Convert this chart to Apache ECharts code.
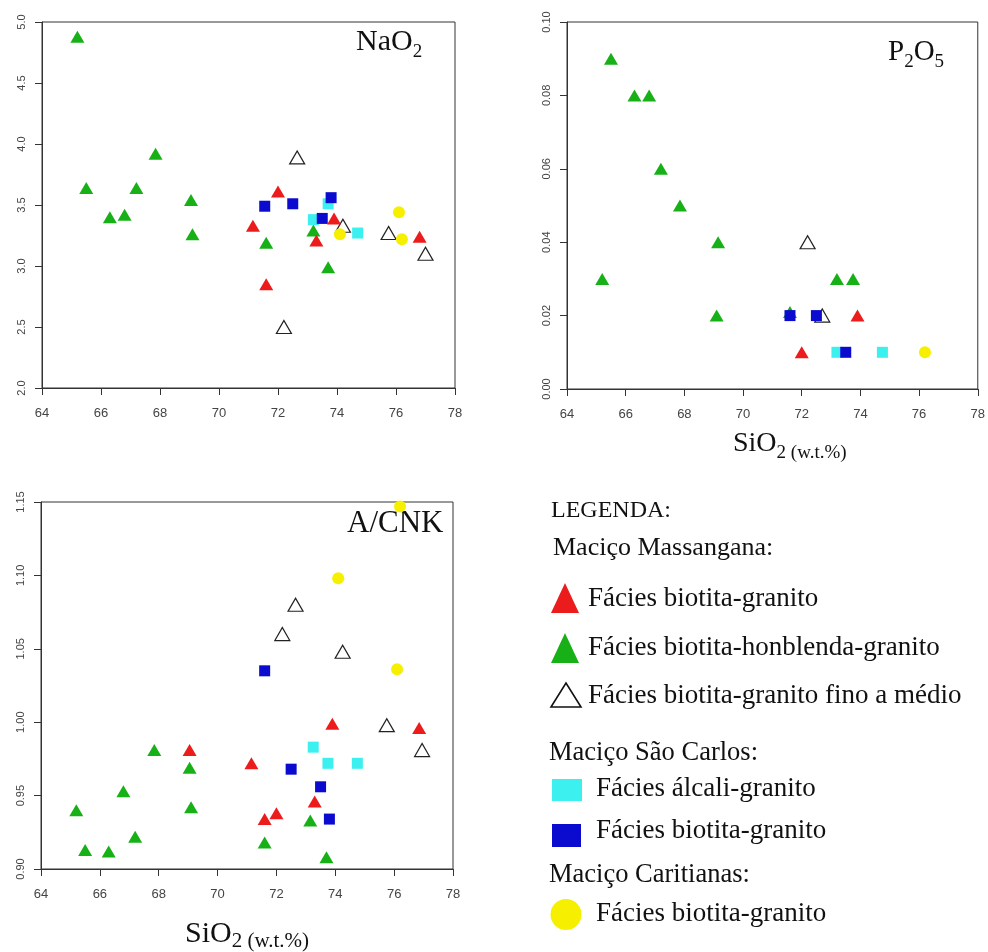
<!DOCTYPE html>
<html>
<head>
<meta charset="utf-8">
<script src="https://cdn.jsdelivr.net/npm/echarts@6/dist/echarts.min.js"></script>
<style>
  html, body { margin: 0; padding: 0; background: #fff; }
  #chart { width: 988px; height: 952px; }
</style>
</head>
<body>
<div id="chart"></div>
<script>
// x = SiO2 (w.t.%), y = value of each panel; one array per facies per panel

// NaO2
const naOpen = [[72.65, 3.89], [72.2, 2.50], [74.2, 3.33], [75.75, 3.27], [77.0, 3.10]]
const naGreen = [[65.2, 4.88], [65.5, 3.64], [66.3, 3.40], [66.8, 3.42], [67.2, 3.64], [67.85, 3.92],
  [69.05, 3.54], [69.1, 3.26], [71.6, 3.19], [73.2, 3.29], [73.7, 2.99]]
const naRed = [[72.0, 3.61], [71.15, 3.33], [71.6, 2.85], [73.3, 3.21], [73.9, 3.39], [76.8, 3.24]]
const naCyan = [[73.2, 3.38], [73.7, 3.51], [74.7, 3.27]]
const naBlue = [[71.55, 3.49], [72.5, 3.51], [73.8, 3.56], [73.5, 3.39]]
const naYellow = [[76.1, 3.44], [74.1, 3.26], [76.2, 3.22]]

// P2O5
const pOpen = [[72.2, 0.04], [72.7, 0.02]]
const pGreen = [[65.5, 0.09], [66.3, 0.08], [66.8, 0.08], [67.2, 0.06], [67.85, 0.05], [69.15, 0.04],
  [65.2, 0.03], [73.2, 0.03], [73.75, 0.03], [69.1, 0.02], [71.6, 0.021]]
const pRed = [[73.9, 0.02], [72.0, 0.01]]
const pCyan = [[73.2, 0.01], [74.75, 0.01]]
const pBlue = [[71.6, 0.02], [72.5, 0.02], [73.5, 0.01]]
const pYellow = [[76.2, 0.01]]

// A/CNK
const acOpen = [[72.65, 1.080], [72.2, 1.060], [74.25, 1.048], [75.75, 0.998], [76.95, 0.981]]
const acGreen = [[67.85, 0.981], [69.05, 0.969], [66.8, 0.953], [65.2, 0.940], [69.1, 0.942], [67.2, 0.922],
  [65.5, 0.913], [66.3, 0.912], [71.6, 0.918], [73.15, 0.933], [73.7, 0.908]]
const acRed = [[73.9, 0.999], [76.85, 0.996], [69.05, 0.981], [71.15, 0.972], [73.3, 0.946], [72.0, 0.938], [71.6, 0.934]]
const acCyan = [[73.25, 0.983], [73.75, 0.972], [74.75, 0.972]]
const acBlue = [[71.6, 1.035], [72.5, 0.968], [73.5, 0.956], [73.8, 0.934]]
const acYellow = [[76.2, 1.147], [74.1, 1.098], [76.1, 1.036]]

const xTicks = { min: 64, max: 78, step: 2 }
const naTicks = { min: 2, max: 5, step: 0.5, digits: 1 }
const pTicks = { min: 0, max: 0.1, step: 0.02, digits: 2 }
const acTicks = { min: 0.9, max: 1.15, step: 0.05, digits: 2 }

const RED = '#ec1c1c'
const GREEN = '#17b117'
const CYAN = '#3cf0f0'
const BLUE = '#0b0bcf'
const YELLOW = '#f6f000'
const AXIS = '#333'

const serif = '"Liberation Serif", "Times New Roman", serif'

const grids = [
  { left: 42, top: 22, width: 413, height: 366 },
  { left: 567, top: 22, width: 413, height: 367 },
  { left: 41, top: 502, width: 412, height: 367 }
]

function xAxis (i) {
  return {
    type: 'value', gridIndex: i, min: xTicks.min, max: xTicks.max, interval: xTicks.step,
    axisLine: { show: true, onZero: false, lineStyle: { color: AXIS } },
    axisTick: { show: true, length: 7, lineStyle: { color: AXIS } },
    splitLine: { show: false },
    axisLabel: { margin: 19, fontSize: 13, color: '#444', fontFamily: 'Liberation Sans' }
  }
}

function yAxis (i, t) {
  return {
    type: 'value', gridIndex: i, min: t.min, max: t.max, interval: t.step,
    axisLine: { show: true, onZero: false, lineStyle: { color: AXIS } },
    axisTick: { show: true, length: 7, lineStyle: { color: AXIS } },
    splitLine: { show: false },
    axisLabel: {
      rotate: 90, margin: 15, fontSize: 11, color: '#444', fontFamily: 'Liberation Sans',
      formatter: v => v.toFixed(t.digits)
    }
  }
}

// draw order: open, green, red, cyan, blue, yellow (later on top)
function panelSeries (i, open, green, red, cyan, blue, yellow) {
  const base = { type: 'scatter', xAxisIndex: i, yAxisIndex: i, silent: true, clip: false }
  return [
    { ...base, data: open, symbol: 'triangle', symbolSize: [15, 13], itemStyle: { color: '#fff', borderColor: '#222', borderWidth: 1.2, opacity: 1 } },
    { ...base, data: green, symbol: 'triangle', symbolSize: [14, 12], itemStyle: { color: GREEN, opacity: 1 } },
    { ...base, data: red, symbol: 'triangle', symbolSize: [14, 12], itemStyle: { color: RED, opacity: 1 } },
    { ...base, data: cyan, symbol: 'rect', symbolSize: 11, itemStyle: { color: CYAN, opacity: 1 } },
    { ...base, data: blue, symbol: 'rect', symbolSize: 11, itemStyle: { color: BLUE, opacity: 1 } },
    { ...base, data: yellow, symbol: 'circle', symbolSize: 12, itemStyle: { color: YELLOW, opacity: 1 } }
  ]
}

// text helpers: y given as baseline
const measure = document.createElement('canvas').getContext('2d')
function textWidth (s, size) {
  measure.font = size + 'px ' + serif
  return measure.measureText(s).width
}
function txt (x, baseline, s, size) {
  return {
    type: 'text', x: x, y: baseline - 0.34 * size, silent: true,
    style: { text: s, fontSize: size, fontFamily: serif, fill: '#111', align: 'left', verticalAlign: 'middle' }
  }
}
function formula (x, baseline, parts, size, subSize, drop) {
  const out = []
  let cx = x
  parts.forEach(([s, sub]) => {
    const fs = sub ? subSize : size
    out.push(txt(cx, sub ? baseline + drop : baseline, s, fs))
    cx += textWidth(s, fs)
  })
  return out
}

const graphics = [
  ...formula(356, 52, [['NaO', false], ['2', true]], 30, 19, 6),
  ...formula(888, 62, [['P', false], ['2', true], ['O', false], ['5', true]], 29, 19, 6),
  ...formula(347, 534, [['A/CNK', false]], 31, 20, 0),
  ...formula(733, 453, [['SiO', false], ['2 (w.t.%)', true]], 28, 19, 6),
  ...formula(185, 944, [['SiO', false], ['2 (w.t.%)', true]], 30, 21, 5),

  // legend
  txt(551, 519, 'LEGENDA:', 24),
  txt(553, 557, 'Maciço Massangana:', 26),
  { type: 'polygon', silent: true, shape: { points: [[551, 613], [579, 613], [565, 583]] }, style: { fill: RED } },
  txt(588, 608, 'Fácies biotita-granito', 27),
  { type: 'polygon', silent: true, shape: { points: [[551, 663], [579, 663], [565, 633]] }, style: { fill: GREEN } },
  txt(588, 657, 'Fácies biotita-honblenda-granito', 27),
  { type: 'polygon', silent: true, shape: { points: [[551, 707], [581, 707], [566, 683]] }, style: { fill: '#fff', stroke: '#111', lineWidth: 1.6 } },
  txt(588, 705, 'Fácies biotita-granito fino a médio', 27),
  txt(549, 762, 'Maciço São Carlos:', 26.5),
  { type: 'rect', silent: true, shape: { x: 552, y: 779, width: 30, height: 22 }, style: { fill: CYAN } },
  txt(596, 798, 'Fácies álcali-granito', 27),
  { type: 'rect', silent: true, shape: { x: 552, y: 824, width: 29, height: 23 }, style: { fill: BLUE } },
  txt(596, 840, 'Fácies biotita-granito', 27),
  txt(549, 884, 'Maciço Caritianas:', 26.5),
  { type: 'circle', silent: true, shape: { cx: 566, cy: 914.5, r: 15.5 }, style: { fill: YELLOW } },
  txt(596, 923, 'Fácies biotita-granito', 27)
]

const chart = echarts.init(document.getElementById('chart'), null, { renderer: 'canvas' })
chart.setOption({
  animation: false,
  backgroundColor: '#fff',
  grid: grids.map(g => ({ ...g, show: true, borderColor: AXIS, borderWidth: 1, backgroundColor: 'transparent', containLabel: false })),
  xAxis: [xAxis(0), xAxis(1), xAxis(2)],
  yAxis: [yAxis(0, naTicks), yAxis(1, pTicks), yAxis(2, acTicks)],
  series: [
    ...panelSeries(0, naOpen, naGreen, naRed, naCyan, naBlue, naYellow),
    ...panelSeries(1, pOpen, pGreen, pRed, pCyan, pBlue, pYellow),
    ...panelSeries(2, acOpen, acGreen, acRed, acCyan, acBlue, acYellow)
  ],
  graphic: graphics
})
</script>
</body>
</html>
